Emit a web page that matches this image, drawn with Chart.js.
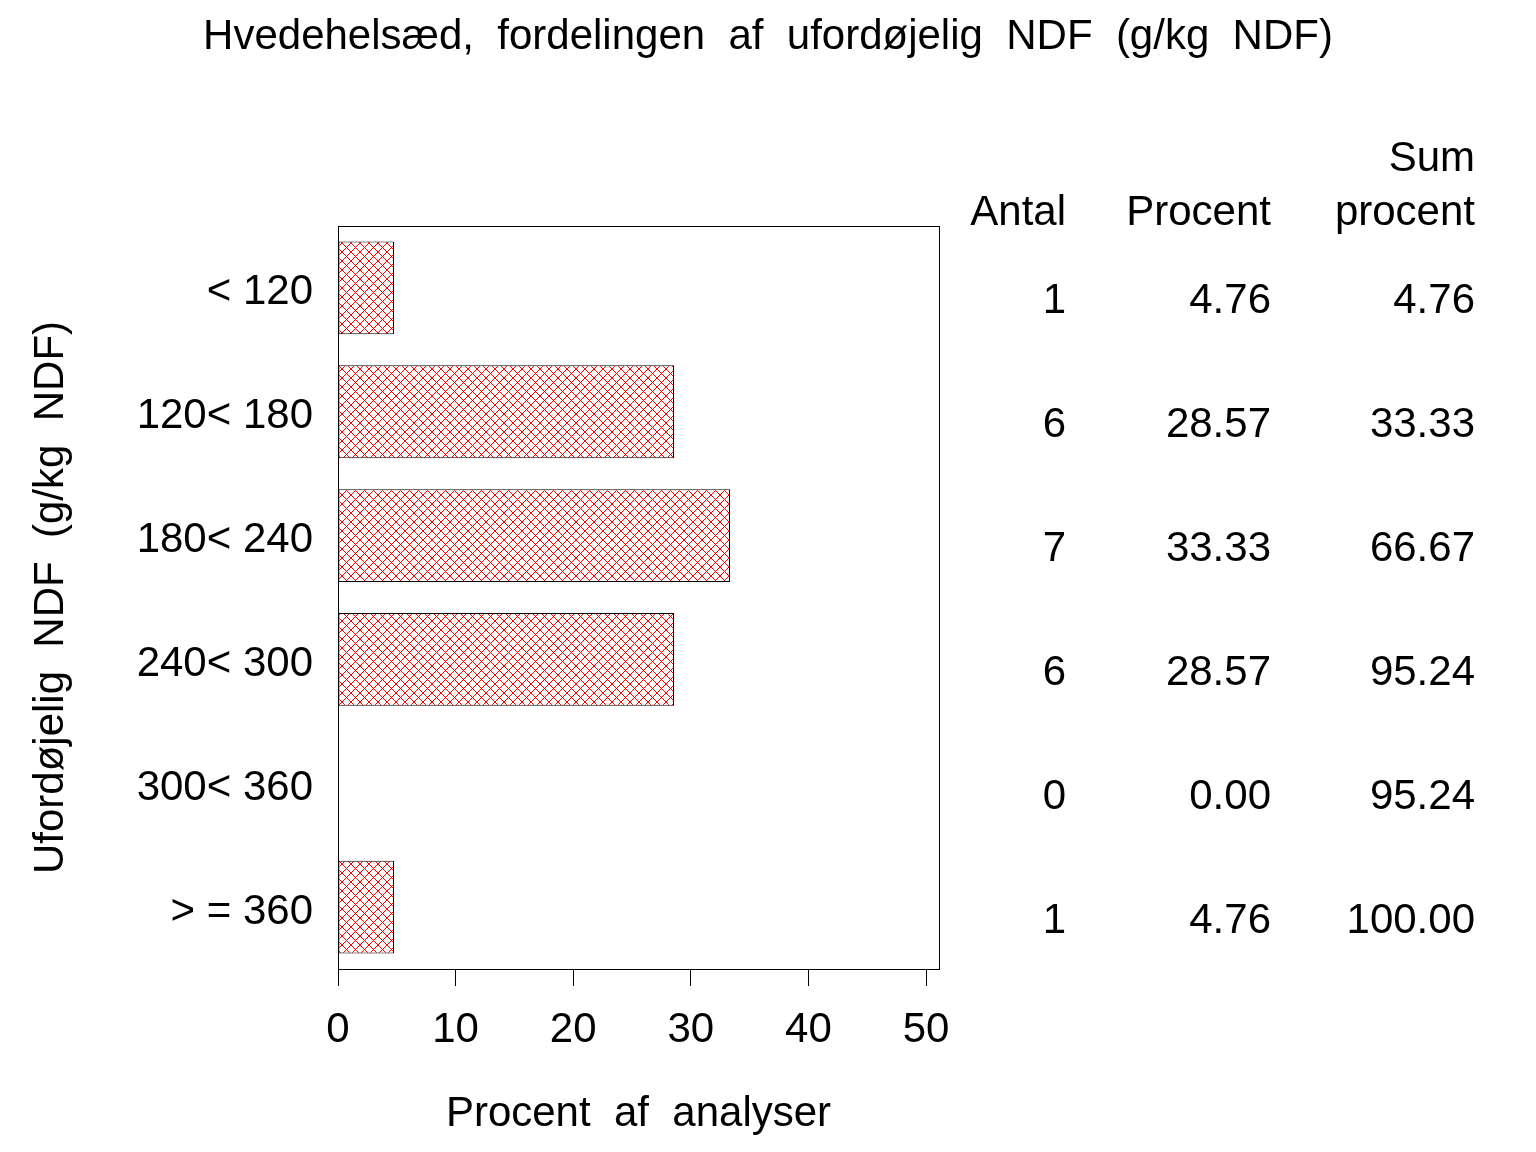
<!DOCTYPE html>
<html>
<head>
<meta charset="utf-8">
<script src="https://cdn.jsdelivr.net/npm/chart.js@4"></script>
<style>
html,body{margin:0;padding:0;background:#fff;}
canvas{display:block;}
</style>
</head>
<body>
<canvas id="c" width="1536" height="1152"></canvas>
<script>
// ---- data ----
const categories = ['< 120', '120< 180', '180< 240', '240< 300', '300< 360', '> = 360'];
const antal = [1, 6, 7, 6, 0, 1];
const procent = [4.76, 28.57, 33.33, 28.57, 0.00, 4.76];
const sumProcent = [4.76, 33.33, 66.67, 95.24, 95.24, 100.00];
const xTicks = [0, 10, 20, 30, 40, 50];
const xMin = 0;
const xMax = 51.1;
const titleText = 'Hvedehelsæd,  fordelingen  af  ufordøjelig  NDF  (g/kg  NDF)';
const xTitle = 'Procent  af  analyser';
const yTitle = 'Ufordøjelig  NDF  (g/kg  NDF)';
const tableHeaders = ['Antal', 'Procent', ['Sum', 'procent']];

const FONT = '"Liberation Sans", Arial, Helvetica, sans-serif';

// crosshatch pattern
function makeHatch() {
  const s = 9;
  const c = document.createElement('canvas');
  c.width = s; c.height = s;
  const g = c.getContext('2d');
  g.fillStyle = '#ffffff';
  g.fillRect(0, 0, s, s);
  g.fillStyle = '#ff0000';
  for (let i = 0; i < s; i++) {
    g.fillRect(i, i, 1, 1);
    g.fillRect(s - 1 - i, i, 1, 1);
  }
  return document.getElementById('c').getContext('2d').createPattern(c, 'repeat');
}

const framePlugin = {
  id: 'frame',
  afterDatasetsDraw(chart) {
    const {ctx, chartArea: a} = chart;
    ctx.save();
    ctx.strokeStyle = '#000';
    ctx.lineWidth = 1;
    ctx.strokeRect(Math.round(a.left) + 0.5, Math.round(a.top) + 0.5,
                   Math.round(a.right - a.left), Math.round(a.bottom - a.top));
    ctx.restore();
  }
};

const textPlugin = {
  id: 'texts',
  afterDraw(chart) {
    const {ctx} = chart;
    const y = chart.scales.y;
    const cols = [1066, 1271, 1475];
    ctx.save();
    ctx.fillStyle = '#000';
    ctx.font = '42px ' + FONT;
    ctx.textBaseline = 'middle';
    // main title
    ctx.textAlign = 'center';
    ctx.fillText(titleText, chart.width / 2, 37);
    // table
    ctx.textAlign = 'right';
    ctx.fillText(tableHeaders[0], cols[0], 213);
    ctx.fillText(tableHeaders[1], cols[1], 213);
    ctx.fillText(tableHeaders[2][0], cols[2], 159);
    ctx.fillText(tableHeaders[2][1], cols[2], 213);
    for (let i = 0; i < categories.length; i++) {
      const py = y.getPixelForValue(i) + 14;
      ctx.fillText(String(antal[i]), cols[0], py);
      ctx.fillText(procent[i].toFixed(2), cols[1], py);
      ctx.fillText(sumProcent[i].toFixed(2), cols[2], py);
    }
    ctx.restore();
  }
};

Chart.defaults.font.family = FONT;
Chart.defaults.color = '#000';

new Chart(document.getElementById('c'), {
  type: 'bar',
  data: {
    labels: categories,
    datasets: [{
      data: procent,
      backgroundColor: makeHatch(),
      borderColor: '#000',
      borderWidth: 1,
      borderSkipped: false,
      barPercentage: 0.75,
      categoryPercentage: 1.0
    }]
  },
  options: {
    indexAxis: 'y',
    responsive: false,
    animation: false,
    devicePixelRatio: 1,
    layout: { padding: { left: 0, right: 597, top: 226, bottom: 0 } },
    plugins: {
      legend: { display: false },
      tooltip: { enabled: false },
      title: { display: false }
    },
    scales: {
      x: {
        type: 'linear',
        min: xMin,
        max: xMax,
        afterBuildTicks(scale) { scale.ticks = xTicks.map(v => ({ value: v })); },
        afterFit(scale) { scale.height = 183; },
        grid: { display: true, drawOnChartArea: false, drawTicks: true, tickLength: 17, color: '#000', lineWidth: 1 },
        border: { display: true, color: '#000', width: 1 },
        ticks: { font: { size: 42 }, color: '#000', padding: 19, maxRotation: 0 },
        title: { display: true, text: xTitle, color: '#000', font: { size: 42, lineHeight: 1.2 }, padding: { top: 0, bottom: 12 } }
      },
      y: {
        type: 'category',
        afterFit(scale) { scale.width = 338; },
        grid: { display: false, drawTicks: false },
        border: { display: true, color: '#000', width: 1 },
        ticks: { font: { size: 42 }, color: '#000', padding: 25, labelOffset: 5 },
        title: { display: true, text: yTitle, color: '#000', font: { size: 42, lineHeight: 1.2 }, padding: { top: 26, bottom: 0 } }
      }
    }
  },
  plugins: [framePlugin, textPlugin]
});
</script>
</body>
</html>
